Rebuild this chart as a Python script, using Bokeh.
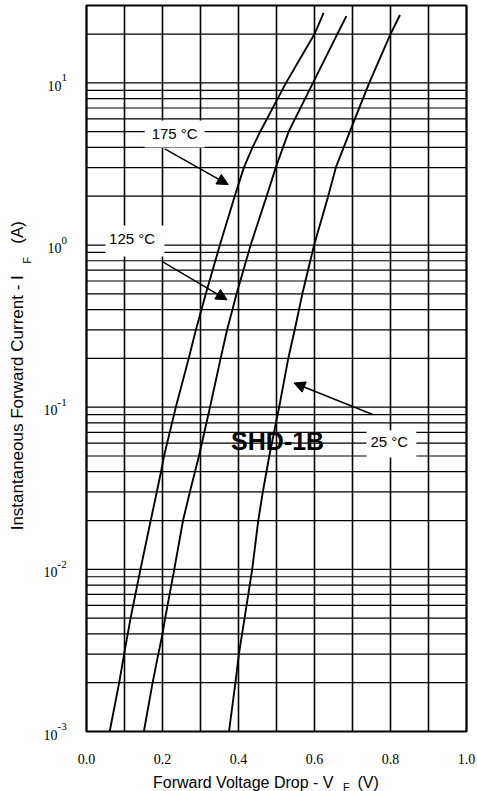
import math
from bokeh.plotting import figure
from bokeh.models import (LabelSet, Label, ColumnDataSource, Arrow, NormalHead,
                          BoxAnnotation, Range1d)
from bokeh.embed import file_html
from bokeh.resources import INLINE

# ---- data ----
V_175 = [0.061, 0.086, 0.099, 0.116, 0.142, 0.169, 0.185, 0.196, 0.204, 0.235, 0.269, 0.288,
         0.314, 0.351, 0.390, 0.414, 0.437, 0.457, 0.525, 0.600, 0.624]
I_175 = [0.001, 0.002, 0.003, 0.005, 0.01, 0.02, 0.03, 0.04, 0.05, 0.1, 0.2, 0.3,
         0.5, 1.0, 2.0, 3.0, 4.0, 5.0, 10.0, 20.0, 27.0]

V_125 = [0.151, 0.174, 0.189, 0.200, 0.207, 0.231, 0.254, 0.272, 0.296, 0.325, 0.353, 0.370,
         0.395, 0.432, 0.474, 0.498, 0.532, 0.596, 0.660, 0.684]
I_125 = [0.001, 0.002, 0.003, 0.004, 0.005, 0.01, 0.02, 0.03, 0.05, 0.1, 0.2, 0.3,
         0.5, 1.0, 2.0, 3.0, 5.0, 10.0, 20.0, 25.8]

V_25 = [0.375, 0.392, 0.401, 0.416, 0.436, 0.452, 0.464, 0.481, 0.507, 0.531, 0.548, 0.568,
        0.599, 0.636, 0.656, 0.693, 0.744, 0.800, 0.825]
I_25 = [0.001, 0.002, 0.003, 0.005, 0.01, 0.02, 0.03, 0.05, 0.1, 0.2, 0.3, 0.5,
        1.0, 2.0, 3.0, 5.0, 10.0, 20.0, 26.2]

X_MIN, X_MAX = 0.0, 1.0
Y_MIN, Y_MAX = 1e-3, 30
X_TICKS = [0.0, 0.2, 0.4, 0.6, 0.8, 1.0]
X_TICK_LABELS = ["0.0", "0.2", "0.4", "0.6", "0.8", "1.0"]
X_MINOR = [0.1, 0.3, 0.5, 0.7, 0.9]
Y_DECADES = [1e-3, 1e-2, 1e-1, 1e0, 1e1]
Y_EXPONENTS = ["-3", "-2", "-1", "0", "1"]
Y_MINOR = [m * d for d in Y_DECADES for m in range(2, 10) if m * d < Y_MAX]

FONT = "Liberation Sans"

# ---- layout (pixels) ----
W, H = 477, 791
L, R, T, B = 86, 466, 5, 731          # chart box inside the canvas
kx = (R - L) / (X_MAX - X_MIN)
ky = (B - T) / (math.log10(Y_MAX) - math.log10(Y_MIN))
x_range = Range1d(X_MIN - L / kx, X_MAX + (W - R) / kx)
y_range = Range1d(10 ** (math.log10(Y_MIN) - (H - B) / ky), 10 ** (math.log10(Y_MAX) + T / ky))

p = figure(width=W, height=H, title=None, x_range=x_range, y_range=y_range,
           y_axis_type="log", x_axis_location=None, y_axis_location=None,
           output_backend="svg", toolbar_location=None, min_border=0,
           background_fill_color="white", border_fill_color="white",
           outline_line_color=None)
p.grid.visible = False

# grid
vx = X_TICKS + X_MINOR
p.segment(x0=vx, y0=[Y_MIN] * len(vx), x1=vx, y1=[Y_MAX] * len(vx),
          line_color="black", line_width=1.6)
hy = Y_DECADES + Y_MINOR
p.segment(x0=[X_MIN] * len(hy), y0=hy, x1=[X_MAX] * len(hy), y1=hy,
          line_color="black", line_width=1.2)
p.quad(left=[X_MIN], right=[X_MAX], bottom=[Y_MIN], top=[Y_MAX], fill_color=None,
       line_color="black", line_width=2)

# curves
for V, I in ((V_175, I_175), (V_125, I_125), (V_25, I_25)):
    p.line(V, I, line_color="black", line_width=1.9)

# x tick labels
xsrc = ColumnDataSource(dict(x=X_TICKS, y=[Y_MIN] * len(X_TICKS), t=X_TICK_LABELS))
p.add_layout(LabelSet(x="x", y="y", text="t", source=xsrc, y_offset=-27,
                      text_align="center", text_baseline="middle", text_font=FONT,
                      text_font_size="14px", text_color="black"))

# y tick labels 10^n
ysrc = ColumnDataSource(dict(
    x=[X_MIN] * len(Y_DECADES), y=Y_DECADES, base=["10"] * len(Y_DECADES), exp=Y_EXPONENTS,
    xo=[-29 if e.startswith("-") else -25 for e in Y_EXPONENTS]))
p.add_layout(LabelSet(x="x", y="y", text="base", source=ysrc, x_offset="xo", y_offset=-3,
                      text_align="right", text_baseline="middle", text_font=FONT,
                      text_font_size="14px", text_color="black"))
p.add_layout(LabelSet(x="x", y="y", text="exp", source=ysrc, x_offset="xo", y_offset=5,
                      text_align="left", text_baseline="middle", text_font=FONT,
                      text_font_size="11px", text_color="black"))

# axis titles
p.add_layout(Label(x=0.650, y=Y_MIN, y_offset=-51, text="Forward Voltage Drop - V",
                   text_align="right", text_baseline="middle", text_font=FONT,
                   text_font_size="16px", text_color="black"))
p.add_layout(Label(x=0.684, y=Y_MIN, y_offset=-55, text="F", text_align="center",
                   text_baseline="middle", text_font=FONT, text_font_size="11px",
                   text_color="black"))
p.add_layout(Label(x=0.713, y=Y_MIN, y_offset=-51, text="(V)", text_align="left",
                   text_baseline="middle", text_font=FONT, text_font_size="16px",
                   text_color="black"))

p.add_layout(Label(x=X_MIN, y=0.0174, x_offset=-69, text="Instantaneous Forward Current - I",
                   angle=math.pi / 2, text_align="left", text_baseline="middle",
                   text_font=FONT, text_font_size="17px", text_color="black"))
p.add_layout(Label(x=X_MIN, y=0.803, x_offset=-60, text="F", angle=math.pi / 2,
                   text_align="center", text_baseline="middle", text_font=FONT,
                   text_font_size="11px", text_color="black"))
p.add_layout(Label(x=X_MIN, y=1.02, x_offset=-69, text="(A)", angle=math.pi / 2,
                   text_align="left", text_baseline="middle", text_font=FONT,
                   text_font_size="17px", text_color="black"))

# label boxes
for l, r, b, t in ((0.153, 0.311, 4.0, 5.86), (0.050, 0.205, 0.85, 1.32),
                   (0.737, 0.868, 0.049, 0.072)):
    p.add_layout(BoxAnnotation(left=l, right=r, bottom=b, top=t, fill_color="white",
                               fill_alpha=1, line_color=None))

for x, y, txt in ((0.232, 4.87, "175 °C"), (0.120, 1.09, "125 °C"), (0.797, 0.061, "25 °C")):
    p.add_layout(Label(x=x, y=y, text=txt, text_align="center", text_baseline="middle",
                       text_font=FONT, text_font_size="15px", text_color="black"))

p.add_layout(Label(x=0.503, y=0.0615, text="SHD-1B", text_align="center",
                   text_baseline="middle", text_font=FONT, text_font_size="25px",
                   text_font_style="bold", text_color="black"))

# arrows
for xs, ys, xe, ye in ((0.206, 3.92, 0.373, 2.36), (0.202, 0.785, 0.370, 0.459),
                       (0.753, 0.0902, 0.546, 0.141)):
    p.add_layout(Arrow(end=NormalHead(size=11, fill_color="black", line_color="black",
                                      line_width=1),
                       x_start=xs, y_start=ys, x_end=xe, y_end=ye,
                       line_color="black", line_width=1.5))

open("out.html", "w").write(file_html(p, INLINE))
